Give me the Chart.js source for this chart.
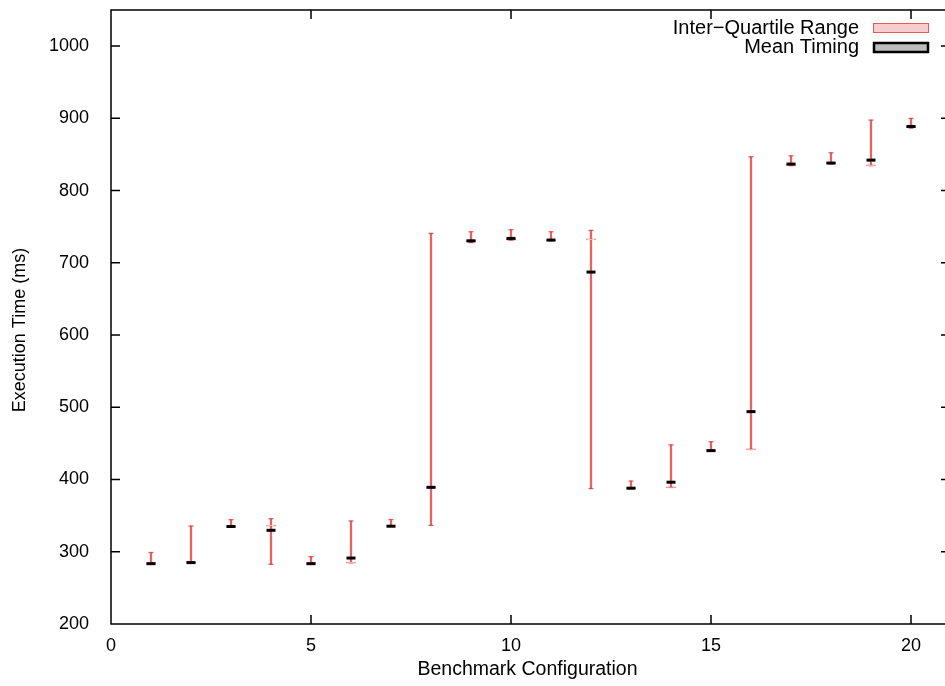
<!DOCTYPE html>
<html>
<head>
<meta charset="utf-8">
<script src="https://cdn.jsdelivr.net/npm/chart.js"></script>
<style>
  html, body { margin: 0; padding: 0; overflow: hidden; background: #fff; }
  canvas { display: block; }
</style>
</head>
<body>
<canvas id="timingChart" width="945" height="686"></canvas>
<script>
// benchmark configurations 1..20
const configs = [1, 2, 3, 4, 5, 6, 7, 8, 9, 10, 11, 12, 13, 14, 15, 16, 17, 18, 19, 20];

// whisker ends (ms)
const minTimes = [283, 284.5, 334, 282.6, 283, 284.9, 335, 336.6, 728, 731.5,
  730.5, 387.5, 387.5, 389, 439, 441.6, 834.5, 837, 834.5, 886.5];
const maxTimes = [299, 335.6, 344.4, 345.8, 293.2, 342.6, 344.6, 740.7, 743, 745.8,
  743, 744.9, 397.9, 448, 452.3, 846.8, 848.2, 852.3, 897.6, 899.9];

// inter-quartile range
const q1Times = [283, 284.5, 334, 335.5, 283, 284.2, 335, 388, 728.5, 731.5,
  730.5, 731.8, 387.5, 388.6, 439.2, 441, 834.8, 837, 834.2, 887];
const q3Times = [285, 286, 336, 337, 285, 285.6, 336, 390, 731, 734,
  732, 733.2, 389, 390, 441, 442.4, 836.5, 839, 835.8, 889.5];

// mean timing
const meanTimes = [283.5, 285, 335, 329.7, 283.5, 291.3, 335.4, 389.2, 730.5, 733.8,
  731.5, 687.2, 388, 396.3, 440, 494, 836.7, 838.1, 842.2, 888.8];

const yTicks = [200, 300, 400, 500, 600, 700, 800, 900, 1000];
const xTicks = [0, 5, 10, 15, 20];

const RED = 'rgba(225, 60, 60, 0.8)';
const FONT = "'Liberation Sans', Arial, sans-serif";

Chart.defaults.font.family = FONT;
Chart.defaults.font.size = 18;
Chart.defaults.color = '#000';

const pts = (arr) => configs.map((x, i) => ({ x: x, y: arr[i] }));
const ranges = (lo, hi) => configs.map((x, i) => ({ x: x, y: [lo[i], hi[i]] }));

// border (right edge falls off the picture) + inward ticks, gnuplot style
const frame = {
  id: 'frame',
  afterDraw(chart) {
    const { ctx, chartArea: a, scales } = chart;
    ctx.save();
    ctx.strokeStyle = '#000';
    ctx.lineWidth = 1.5;
    ctx.beginPath();
    ctx.moveTo(a.right + 8, a.top);
    ctx.lineTo(a.left, a.top);
    ctx.lineTo(a.left, a.bottom);
    ctx.lineTo(a.right + 8, a.bottom);
    yTicks.forEach(v => {
      const py = scales.y.getPixelForValue(v);
      ctx.moveTo(a.left, py); ctx.lineTo(a.left + 9, py);
      ctx.moveTo(a.right + 6, py); ctx.lineTo(a.right - 3, py);
    });
    xTicks.forEach(v => {
      const px = scales.x.getPixelForValue(v);
      ctx.moveTo(px, a.bottom); ctx.lineTo(px, a.bottom - 9);
      ctx.moveTo(px, a.top); ctx.lineTo(px, a.top + 9);
    });
    ctx.stroke();

    // y axis title
    ctx.fillStyle = '#000';
    ctx.textAlign = 'center';
    ctx.textBaseline = 'middle';
    ctx.font = '18px ' + FONT;
    ctx.save();
    ctx.translate(20, 330);
    ctx.rotate(-Math.PI / 2);
    ctx.fillText('Execution Time (ms)', 0, 0);
    ctx.restore();

    // key in the top right corner
    ctx.font = '20px ' + FONT;
    ctx.textAlign = 'right';
    ctx.fillText('Inter\u2212Quartile Range', 859, 28);
    ctx.fillText('Mean Timing', 859, 47.5);
    ctx.fillStyle = '#f7cccc';
    ctx.fillRect(873, 23, 56, 10);
    ctx.strokeStyle = RED;
    ctx.lineWidth = 1;
    ctx.strokeRect(873.5, 23.5, 55, 9);
    ctx.fillStyle = '#bdbdbd';
    ctx.fillRect(873, 42, 56, 11);
    ctx.strokeStyle = '#000';
    ctx.lineWidth = 2.5;
    ctx.strokeRect(874, 43, 54, 9);
    ctx.restore();
  }
};

new Chart(document.getElementById('timingChart'), {
  type: 'bar',
  data: {
    datasets: [
      {
        type: 'scatter',
        label: 'Mean Timing',
        data: pts(meanTimes),
        pointStyle: 'line',
        radius: 4.5,
        borderWidth: 3,
        borderColor: '#000',
        order: 0
      },
      {
        label: 'Inter-Quartile Range',
        data: ranges(q1Times, q3Times),
        backgroundColor: '#f7cccc',
        borderColor: RED,
        borderWidth: 1,
        borderSkipped: false,
        barThickness: 9,
        grouped: false,
        order: 1
      },
      {
        type: 'scatter',
        label: 'caps',
        data: pts(minTimes).concat(pts(maxTimes)),
        pointStyle: 'line',
        radius: 2.5,
        borderWidth: 1.3,
        borderColor: RED,
        order: 2
      },
      {
        label: 'whiskers',
        data: ranges(minTimes, maxTimes),
        backgroundColor: RED,
        borderWidth: 0,
        barThickness: 1.6,
        grouped: false,
        order: 3
      }
    ]
  },
  options: {
    responsive: false,
    animation: false,
    layout: { autoPadding: false, padding: { top: 10, right: 1, left: 0, bottom: 0 } },
    plugins: {
      legend: { display: false },
      tooltip: { enabled: false }
    },
    scales: {
      x: {
        type: 'linear',
        offset: false,
        min: 0,
        max: 20.825,
        afterBuildTicks: (s) => { s.ticks = xTicks.map(v => ({ value: v })); },
        afterFit: (s) => { s.height = 62; s.paddingLeft = 0; s.paddingRight = 0; },
        grid: { display: false, offset: false },
        border: { display: false },
        ticks: { padding: 3, maxRotation: 0, callback: (v) => String(v) },
        title: {
          display: true,
          text: 'Benchmark Configuration',
          font: { size: 19.5 },
          padding: { top: 0, bottom: 5 }
        }
      },
      y: {
        type: 'linear',
        min: 200,
        max: 1050,
        afterBuildTicks: (s) => { s.ticks = yTicks.map(v => ({ value: v })); },
        afterFit: (s) => { s.width = 111; s.paddingTop = 0; s.paddingBottom = 0; },
        grid: { display: false },
        border: { display: false },
        ticks: { padding: 14, callback: (v) => String(v) }
      }
    }
  },
  plugins: [frame]
});
</script>
</body>
</html>
